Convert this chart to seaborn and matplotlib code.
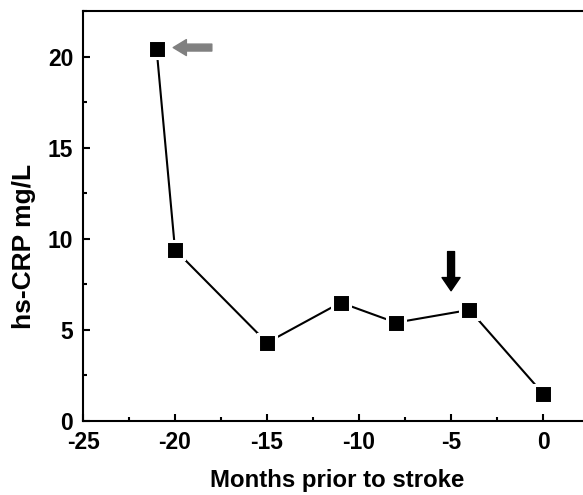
import matplotlib
matplotlib.use("Agg")
import matplotlib.pyplot as plt
import seaborn as sns
from matplotlib.ticker import MultipleLocator

# data
months = [-21, -20, -15, -11, -8, -4, 0]
crp = [20.4, 9.4, 4.3, 6.5, 5.4, 6.1, 1.5]

x_ticks = [-25, -20, -15, -10, -5, 0]
y_ticks = [0, 5, 10, 15, 20]

sns.set_style("ticks", {'axes.edgecolor': 'black', 'text.color': 'black',
                        'axes.labelcolor': 'black', 'xtick.color': 'black',
                        'ytick.color': 'black'})
plt.rcParams['font.family'] = ['Liberation Sans', 'DejaVu Sans']
plt.rcParams['font.weight'] = 'bold'

fig = plt.figure(figsize=(5.83, 4.95), dpi=100)
ax = fig.add_axes([0.1424, 0.1495, 0.8576, 0.828])

sns.lineplot(x=months, y=crp, ax=ax, color='black', linewidth=1.5,
             marker='s', markersize=12.5, markerfacecolor='black',
             markeredgecolor='white', markeredgewidth=2.2)

# arrows marking events
ax.annotate('', xy=(-20.1, 20.5), xytext=(-18.0, 20.5),
            arrowprops=dict(arrowstyle='simple,head_length=0.95,head_width=1.15,tail_width=0.5',
                            mutation_scale=10, color='#808080', shrinkA=0, shrinkB=0))
ax.annotate('', xy=(-5.0, 7.15), xytext=(-5.0, 9.3),
            arrowprops=dict(arrowstyle='simple,head_length=0.95,head_width=1.3,tail_width=0.5',
                            mutation_scale=10, color='black', shrinkA=0, shrinkB=0))

ax.set_xlim(-25, 2.17)
ax.set_ylim(0, 22.5)
ax.set_xticks(x_ticks)
ax.set_yticks(y_ticks)
ax.set_xticklabels([str(t) for t in x_ticks], fontsize=16.5, fontweight='bold')
ax.set_yticklabels([str(t) for t in y_ticks], fontsize=16.5, fontweight='bold')
ax.xaxis.set_minor_locator(MultipleLocator(2.5))
ax.yaxis.set_minor_locator(MultipleLocator(2.5))

ax.tick_params(which='major', direction='in', length=5, width=1.5, pad=7,
               top=False, right=False, colors='black')
ax.tick_params(which='minor', direction='in', length=3, width=1.5, top=False, right=False,
               colors='black')

for s in ['left', 'bottom', 'top']:
    ax.spines[s].set_linewidth(1.5)
    ax.spines[s].set_color('black')
ax.spines['right'].set_visible(False)

ax.set_xlabel('Months prior to stroke', fontsize=17.3, fontweight='bold', color='black')
ax.set_ylabel('hs-CRP mg/L', fontsize=19, fontweight='bold', color='black')
ax.xaxis.set_label_coords(0.508, -0.146)
ax.yaxis.set_label_coords(-0.118, 0.427)
ax.xaxis.label.set_va('center')
ax.yaxis.label.set_va('center')

fig.savefig('out.png', dpi=100)
